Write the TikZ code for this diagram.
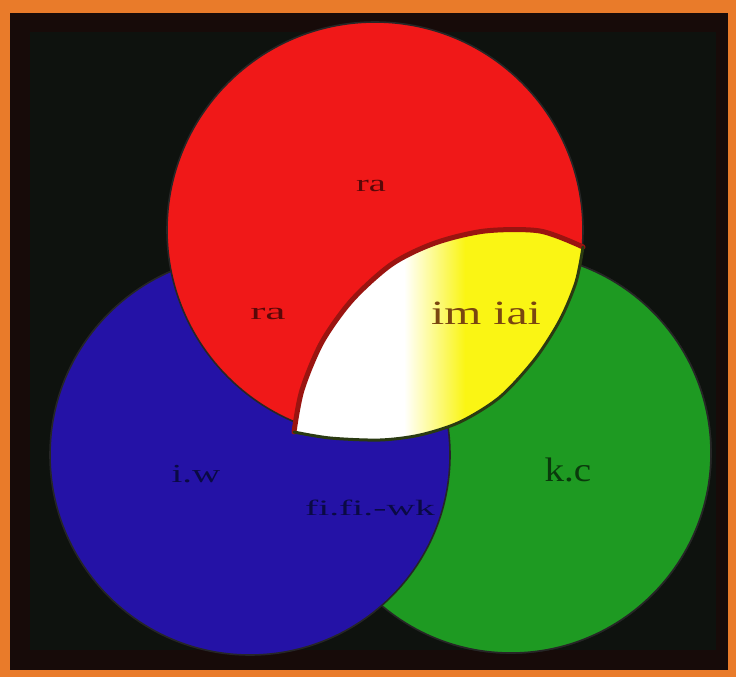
\documentclass[tikz,border=0pt]{standalone}
\usepackage{fontspec}
\setmainfont{Liberation Serif}
\definecolor{frameorange}{HTML}{E97B2A}
\definecolor{bgdark}{HTML}{170B09}
\definecolor{bginner}{HTML}{0E120E}
\definecolor{cred}{HTML}{F01818}
\definecolor{cblue}{HTML}{2412A6}
\definecolor{cgreen}{HTML}{1E9A22}
\definecolor{cyellow}{HTML}{FAF514}
\definecolor{rimred}{HTML}{9A1410}
\definecolor{rimgreen}{HTML}{2A3A12}
\definecolor{txtred}{HTML}{5A0808}
\definecolor{txtyel}{HTML}{7A4610}
\definecolor{txtgrn}{HTML}{0A3A0C}
\definecolor{txtblu}{HTML}{0A0A44}
\tikzset{
  circedge/.style={draw=black!85, line width=1.6pt},
  lbl/.style={inner sep=0pt},
}
\begin{document}
\begin{tikzpicture}[x=1pt,y=-1pt]
\useasboundingbox (0,0) rectangle (736,677);
\fill[frameorange] (0,0) rectangle (736,677);
\fill[bgdark] (10,13) rectangle (728,670);
\fill[bginner] (30,32) rectangle (716,650);
% green (bottom layer)
\fill[cgreen] (511,453) circle (200pt);
\draw[circedge] (511,453) circle (200pt);
% blue over green
\fill[cblue] (250,455) circle (200pt);
\draw[circedge] (250,455) circle (200pt);
% red over blue
\fill[cred] (375,230) circle (208pt);
\draw[circedge] (375,230) circle (208pt);
% green over red (right of the blue circle)
\begin{scope}
  \clip (452,0) rectangle (736,677);
  \fill[cgreen] (511,453) circle (200pt);
  \draw[circedge] (511,453) circle (200pt);
\end{scope}
% lens
\def\upperarc{(294,432) (302,390) (322,342) (352,300) (392,264) (435,243) (485,231) (540,231) (583,247)}
\def\lowerarc{(583,247) (576,282) (560,320) (535,359) (500,397) (460,422) (420,435) (380,440) (330,438) (294,432)}
\begin{scope}
  \clip plot[smooth] coordinates {\upperarc} -- plot[smooth] coordinates {\lowerarc} -- cycle;
  \fill[cyellow] (280,220) rectangle (600,450);
  \fill[white] (280,220) rectangle (405,460);
  \shade[left color=white, right color=cyellow] (404,220) rectangle (465,460);
\end{scope}
\draw[rimred, line width=5pt, line cap=round] plot[smooth] coordinates {\upperarc};
\draw[rimgreen, line width=3pt, line cap=round] plot[smooth] coordinates {\lowerarc};
% labels
\node[lbl, text=txtred] (rtop) at (371,186) {\scalebox{1.6}[1]{\fontsize{24}{24}\selectfont ra}};
\node[lbl, text=txtred] (rleft) at (268,314) {\scalebox{1.9}[1]{\fontsize{24}{24}\selectfont ra}};
\node[lbl, text=txtyel] (yel) at (486,313) {\scalebox{1.4}[1]{\fontsize{34}{34}\selectfont im iai}};
\node[lbl, text=txtgrn] (grn) at (568,470) {\scalebox{1.15}[1]{\fontsize{34}{34}\selectfont k.c}};
\node[lbl, text=txtblu] (bleft) at (196,474) {\scalebox{1.5}[1]{\fontsize{26}{26}\selectfont i.w}};
\node[lbl, text=txtblu] (blow) at (370,508) {\scalebox{1.8}[1]{\fontsize{22}{22}\selectfont fi.fi.-wk}};
\end{tikzpicture}
\end{document}
